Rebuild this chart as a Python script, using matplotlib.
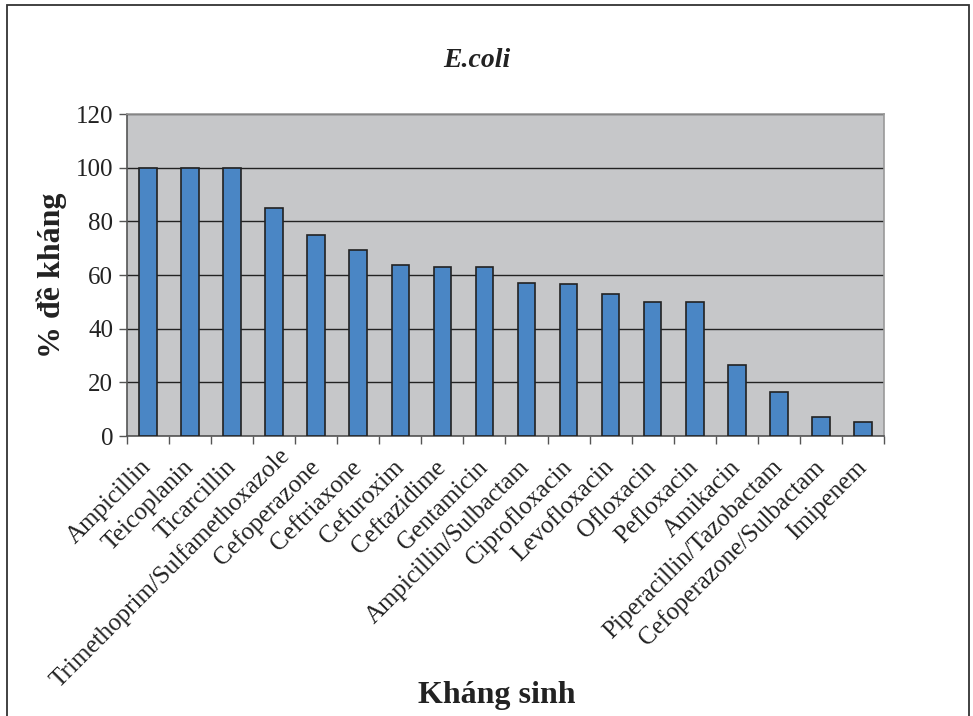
import numpy as np
import matplotlib
matplotlib.use("Agg")
import matplotlib.pyplot as plt
import matplotlib.patches as mpatches
import matplotlib.transforms as mtransforms

antibiotics = [
    "Ampicillin", "Teicoplanin", "Ticarcillin", "Trimethoprim/Sulfamethoxazole",
    "Cefoperazone", "Ceftriaxone", "Cefuroxim", "Ceftazidime", "Gentamicin",
    "Ampicillin/Sulbactam", "Ciprofloxacin", "Levofloxacin", "Ofloxacin",
    "Pefloxacin", "Amikacin", "Piperacillin/Tazobactam", "Cefoperazone/Sulbactam",
    "Imipenem",
]
resistance = [100, 100, 100, 85, 75, 69.4, 63.7, 63, 63, 57, 56.6, 53, 50, 50,
              26.6, 16.5, 7.2, 5.3]
y_ticks = [0, 20, 40, 60, 80, 100, 120]

plt.rcParams["font.family"] = ["Liberation Serif", "DejaVu Serif"]
plt.rcParams["text.color"] = "#222222"

fig = plt.figure(figsize=(9.73, 7.16), dpi=100)
ax = fig.add_axes([0.1305, 0.391, 0.778, 0.4497])

x = np.arange(len(antibiotics))
ax.set_facecolor("#c6c7c9")
ax.bar(x, resistance, width=0.42, color="#4a86c5", edgecolor="#222222",
       linewidth=1.2, zorder=3)

ax.set_xlim(-0.5, len(antibiotics) - 0.5)
ax.set_ylim(0, 120)
ax.set_yticks(y_ticks)
ax.yaxis.grid(True, color="#222222", linewidth=1.0, zorder=1)
ax.tick_params(axis="y", labelsize=18, length=6, width=1, color="#555555",
               labelcolor="#222222", pad=4)

ax.set_xticks(x)
labels = ax.set_xticklabels(antibiotics, rotation=45, ha="right", va="center",
                            rotation_mode="anchor", fontsize=18, color="#222222")
ax.tick_params(axis="x", which="major", length=0, pad=20)
ax.set_xticks(np.arange(-0.5, len(antibiotics)), minor=True)
ax.tick_params(axis="x", which="minor", length=6, width=1, color="#555555")

# the long label is pushed inside the chart border, as in the original
shift = mtransforms.ScaledTranslation(0.12, 0.12, fig.dpi_scale_trans)
labels[3].set_transform(labels[3].get_transform() + shift)

for side in ["left", "bottom"]:
    ax.spines[side].set_color("#555555")
    ax.spines[side].set_linewidth(1.2)
for side in ["top", "right"]:
    ax.spines[side].set_color("#999999")
    ax.spines[side].set_linewidth(1.2)

fig.text(0.49, 0.916, "E.coli", fontsize=20, fontweight="bold",
         style="italic", ha="center", va="center")
fig.text(0.053, 0.616, "% đề kháng", fontsize=23, fontweight="bold",
         rotation=90, ha="center", va="center")
fig.text(0.511, 0.029, "Kháng sinh", fontsize=23, fontweight="bold",
         ha="center", va="center")

border = mpatches.Rectangle((0.0072, -0.02), 0.9885, 1.0137, transform=fig.transFigure,
                            fill=False, edgecolor="#333333", linewidth=1.3)
fig.patches.append(border)

fig.savefig("out.png", dpi=100, facecolor="white")
